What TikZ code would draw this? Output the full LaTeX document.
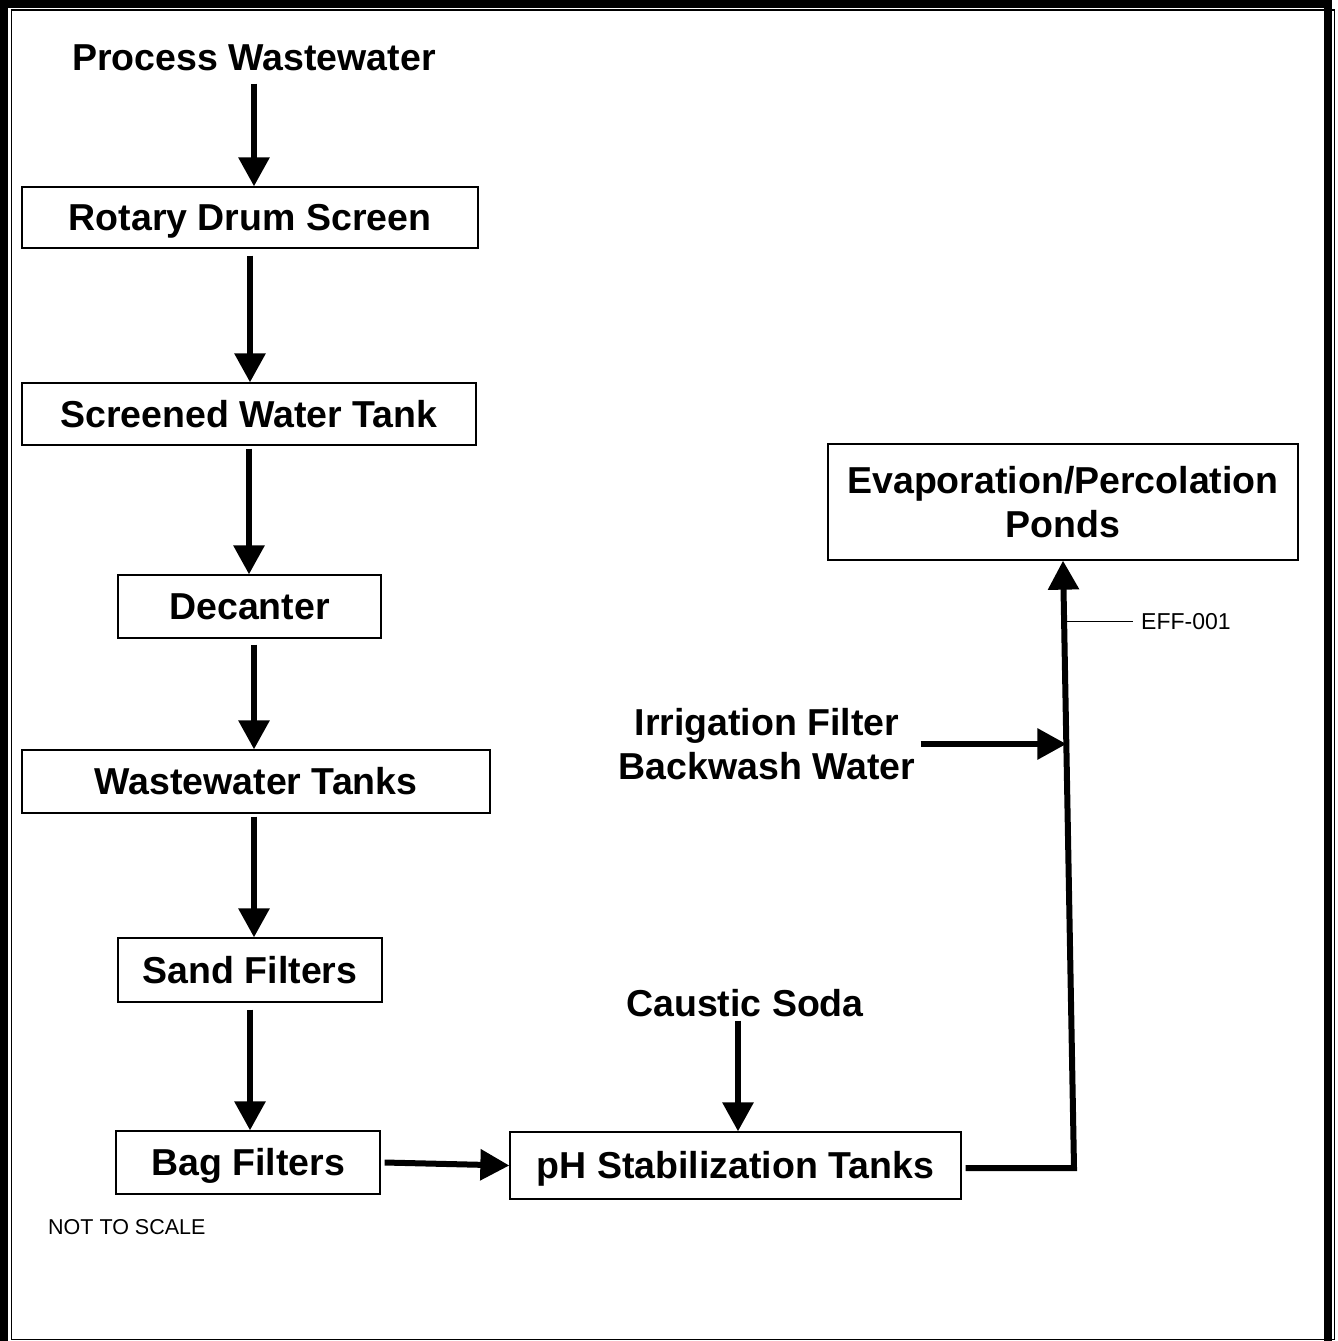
\documentclass[tikz,border=0pt]{standalone}
\usepackage{fontspec}
\setmainfont{Liberation Sans}
\usetikzlibrary{arrows.meta,calc}
\begin{document}
\begin{tikzpicture}[x=1pt,y=-1pt,
  box/.style={draw, line width=1.3pt, inner sep=0pt, font=\fontsize{37.5}{44}\selectfont\bfseries, text height=26.8pt, text depth=0pt},
  lbl/.style={inner sep=0pt, font=\fontsize{37.5}{44}\selectfont\bfseries, align=center},
  arr/.style={line width=6pt, -{Triangle[length=29pt,width=30pt]}},
  small/.style={inner sep=0pt, font=\fontsize{23}{26}\selectfont}]
\useasboundingbox (0,0) rectangle (1338,1341);
% frame
\draw[line width=8pt] (4,1350) -- (4,4) -- (1328,4) -- (1328,1350);
\draw[line width=1.5pt] (11.5,10) rectangle (1334.5,1339.5);
% nodes
\node[lbl, text height=26.8pt, text depth=0pt] (pw) at (254,57) {Process Wastewater};
\node[box, minimum width=456pt, minimum height=61pt] (rot) at (250,217.5) {Rotary Drum Screen};
\node[box, minimum width=454pt, minimum height=62pt] (scr) at (249,414) {Screened Water Tank};
\node[box, minimum width=263pt, minimum height=63pt] (dec) at (249.5,606.5) {Decanter};
\node[box, minimum width=468pt, minimum height=63pt] (ww) at (256,781.5) {Wastewater Tanks};
\node[box, minimum width=264pt, minimum height=64pt] (sand) at (250,970) {Sand Filters};
\node[box, minimum width=264pt, minimum height=63pt] (bag) at (248,1162.5) {Bag Filters};
\node[box, minimum width=451pt, minimum height=67pt] (ph) at (735.5,1165.5) {pH Stabilization Tanks};
\node[draw, line width=1.3pt, minimum width=470pt, minimum height=116pt, lbl] (evap) at (1063,502) {Evaporation/Percolation\\Ponds};
\node[lbl] (irr) at (767,744) {Irrigation Filter\\Backwash Water};
\node[lbl, text height=26.8pt, text depth=0pt] (cs) at (745,1003) {Caustic Soda};
\node[small, anchor=base west] (eff) at (1141,629.3) {EFF-001};
\node[small, font=\fontsize{21.5}{24}\selectfont, anchor=base west] (nts) at (48,1234) {NOT TO SCALE};
% connectors
\draw[arr] ([yshift=-13pt]pw.south) -- (pw.south |- rot.north);
\draw[arr] ([yshift=-7pt]rot.south) -- (rot.south |- scr.north);
\draw[arr] ([yshift=-3pt]scr.south) -- (scr.south |- dec.north);
\draw[arr] ([xshift=4.5pt,yshift=-6pt]dec.south) -- ([xshift=4.5pt]dec.south |- ww.north);
\draw[arr] ([xshift=-2pt,yshift=-3pt]ww.south) -- ([xshift=-2pt]ww.south |- sand.north);
\draw[arr] ([yshift=-7pt]sand.south) -- (sand.south |- bag.north);
\draw[arr] ([xshift=4pt]bag.east) -- (ph.west);
\draw[arr] ([xshift=-7pt,yshift=-4pt]cs.south) -- ([xshift=-7pt]cs.south |- ph.north);
\coordinate (c1) at (1074,1168);
\draw[arr] ([xshift=4pt,yshift=-2.5pt]ph.east) -- (c1) -- (evap.south);
\coordinate (jn) at ($(c1)!0.694!(evap.south)$);
\coordinate (tk) at ($(c1)!0.899!(evap.south)$);
\draw[arr] ([xshift=5pt]irr.east) -- (irr.east -| jn);
\draw[line width=1.5pt] (eff.west -| tk) -- ([xshift=-8pt]eff.west);
\end{tikzpicture}
\end{document}
